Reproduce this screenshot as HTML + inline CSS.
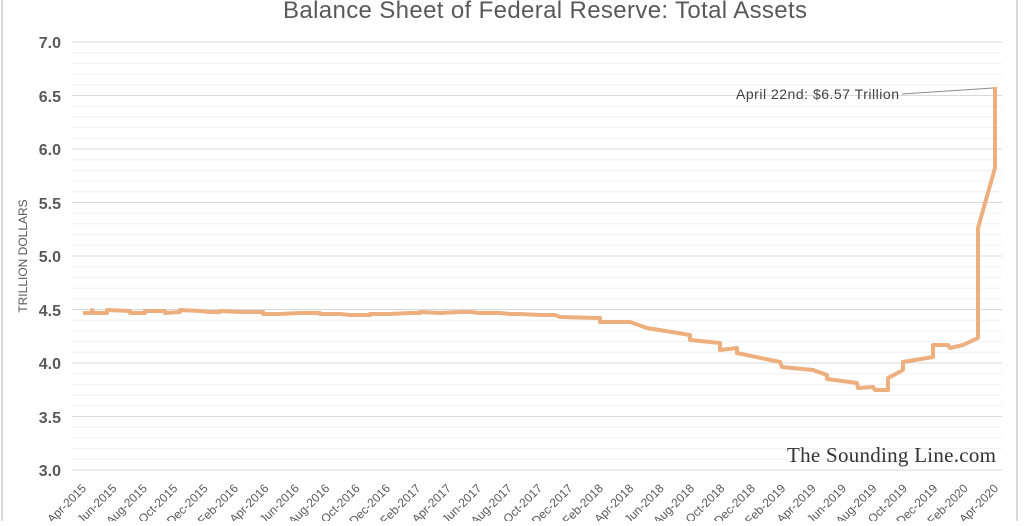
<!DOCTYPE html>
<html><head><style>
html,body{margin:0;padding:0;background:#fff;}
body{width:1024px;height:521px;overflow:hidden;font-family:"Liberation Sans",sans-serif;}
</style></head><body>
<svg width="1024" height="521" xmlns="http://www.w3.org/2000/svg">
<rect x="0" y="0" width="1024" height="521" fill="#fff"/>
<line x1="2" y1="0" x2="2" y2="521" stroke="#d9d9d9" stroke-width="2"/>
<line x1="1017" y1="0" x2="1017" y2="521" stroke="#d9d9d9" stroke-width="2"/>
<text x="545" y="18" text-anchor="middle" font-size="24" fill="#595959" textLength="524">Balance Sheet of Federal Reserve: Total Assets</text>
<g id="grid"></g>
<g font-size="16" font-weight="bold" fill="#595959" text-anchor="end">
<text x="61" y="48">7.0</text><text x="61" y="102">6.5</text><text x="61" y="155">6.0</text>
<text x="61" y="209">5.5</text><text x="61" y="262">5.0</text><text x="61" y="316">4.5</text>
<text x="61" y="369">4.0</text><text x="61" y="423">3.5</text><text x="61" y="476">3.0</text>
</g>
<text transform="translate(27,256) rotate(-90)" text-anchor="middle" font-size="12" fill="#595959">TRILLION DOLLARS</text>
<g id="xl" font-size="12" fill="#595959"></g>
<polyline fill="none" stroke="#eeaf7f" stroke-width="4" stroke-linejoin="round" points="
83,313 92,313 92,310 94,313 107,313 107,310 130,311 130,313 145,313 145,311 165,311 165,313 180,312 180,310 200,311 210,312 220,312 220,311 240,312 263,312 263,314 280,314 300,313 320,313 320,314 340,314 350,315 370,315 370,314 390,314 410,313 420,313 420,312 440,313 460,312 470,312 480,313 500,313 510,314 520,314 540,315 555,315 560,317 600,318 600,322 630,322 647,328 690,335 690,340 720,343 720,350 737,348 737,353 780,362 782,367 813,370 827,375 827,379 857,383 858,388 873,387 875,390 888,390 888,378 903,370 903,362 933,357 933,345 948,345 950,348 963,345 978,338 978,228 995,168 995,87"/>
<line x1="902" y1="94" x2="993" y2="88" stroke="#8c8c8c" stroke-width="1"/>
<text x="736" y="99" font-size="14" fill="#404040" textLength="163">April 22nd: $6.57 Trillion</text>
<text x="996" y="462" text-anchor="end" font-family="Liberation Serif,serif" font-size="21" fill="#333" textLength="209">The Sounding Line.com</text>
</svg>
<script>
var ns="http://www.w3.org/2000/svg",g=document.getElementById('grid');
for(var i=0;i<=40;i++){var y=42+i*10.7;var l=document.createElementNS(ns,'line');
l.setAttribute('x1',72);l.setAttribute('x2',1002);l.setAttribute('y1',y);l.setAttribute('y2',y);
l.setAttribute('stroke',i%5==0?'#d9d9d9':'#f0f0f0');l.setAttribute('stroke-width',1);g.appendChild(l);}
var m=['Apr','Jun','Aug','Oct','Dec','Feb'],xl=document.getElementById('xl');
for(var k=0;k<31;k++){var mi=k%6,yr=2015+Math.floor(k/6)+(mi==5?1:0);var x=83+k*30.4;
var t=document.createElementNS(ns,'text');t.setAttribute('text-anchor','end');
t.setAttribute('transform','translate('+(x+4)+',489) rotate(-45)');t.textContent=m[mi]+'-'+yr;xl.appendChild(t);}
</script>
</body></html>
